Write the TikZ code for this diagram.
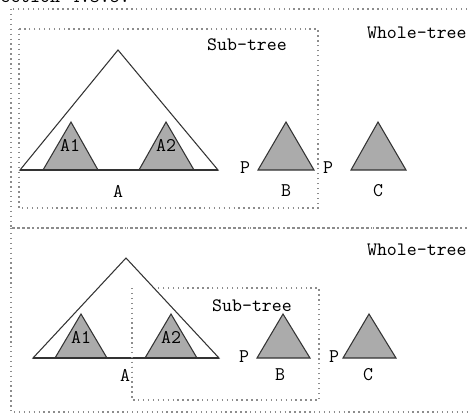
\documentclass[tikz,border=0pt]{standalone}
\usepackage{tikz}
\usetikzlibrary{positioning}

\begin{document}
\begin{tikzpicture}[
    x=0.02cm, y=-0.02cm,
    linha/.style={draw=black!80, line join=miter, line width=0.6pt},
    cinza/.style={linha, fill=black!33},
    base/.style={draw=black!80, line width=1pt},
    pontos/.style={draw=black!45, dotted, line width=0.8pt},
    rotulo/.style={font=\fontsize{11}{13}\selectfont\ttfamily, inner sep=0pt},
    titulo/.style={font=\fontsize{10.8}{13}\selectfont\ttfamily, inner sep=0pt}
]
\useasboundingbox (0,0) rectangle (469,414);

% texto cortado no topo
\begin{scope}
\clip (0,0) rectangle (469,414);
\node[titulo, anchor=base west] (secao) at (-10,2) {section 4.3.5:};
\end{scope}

% caixas pontilhadas
\draw[pontos] (11,9) rectangle (480,228);
\draw[pontos] (11,228) rectangle (480,412);
\draw[pontos] (19,29) rectangle (318,208);
\draw[pontos] (132,288) rectangle (319,400);

\node[titulo, anchor=east] (whole1) at (467,33) {Whole-tree};
\node[titulo] (sub1) at (247,45) {Sub-tree};
\node[titulo, anchor=east] (whole2) at (467,250) {Whole-tree};
\node[titulo] (sub2) at (252,306) {Sub-tree};

% parte de cima
\draw[linha, fill=white] (20,170) -- (118,50) -- (218,170) -- cycle;
\draw[cinza] (43,170) -- (71,122) -- (98,170) -- cycle;
\draw[cinza] (139,170) -- (166,122) -- (194,170) -- cycle;
\draw[base] (20,170) -- (218,170);
\draw[cinza] (258,170) -- (286,122) -- (314,170) -- cycle;
\draw[cinza] (351,170) -- (378,122) -- (406,170) -- cycle;

\node[rotulo] (a1) at (70,145) {A1};
\node[rotulo] (a2) at (166,145) {A2};
\node[rotulo] (p1) at (245,168) {P};
\node[rotulo] (p2) at (328,168) {P};
\node[rotulo] (a) at (118,191) {A};
\node[rotulo] (b) at (286,191) {B};
\node[rotulo] (c) at (378,191) {C};

% parte de baixo
\draw[linha, fill=white] (33,358) -- (126,258) -- (219,358) -- cycle;
\draw[cinza] (55,358) -- (81,314) -- (107,358) -- cycle;
\draw[cinza] (145,358) -- (171,314) -- (197,358) -- cycle;
\draw[base] (33,358) -- (219,358);
\draw[cinza] (257,358) -- (283,314) -- (310,358) -- cycle;
\draw[cinza] (343,358) -- (369,314) -- (396,358) -- cycle;
\draw[pontos] (132,288) -- (132,400);

\node[rotulo] (a1b) at (81,337) {A1};
\node[rotulo] (a2b) at (171,337) {A2};
\node[rotulo] (p1b) at (244,357) {P};
\node[rotulo] (p2b) at (334,357) {P};
\node[rotulo] (ab) at (125,375) {A};
\node[rotulo] (bb) at (280,375) {B};
\node[rotulo] (cb) at (368,375) {C};

\end{tikzpicture}
\end{document}
